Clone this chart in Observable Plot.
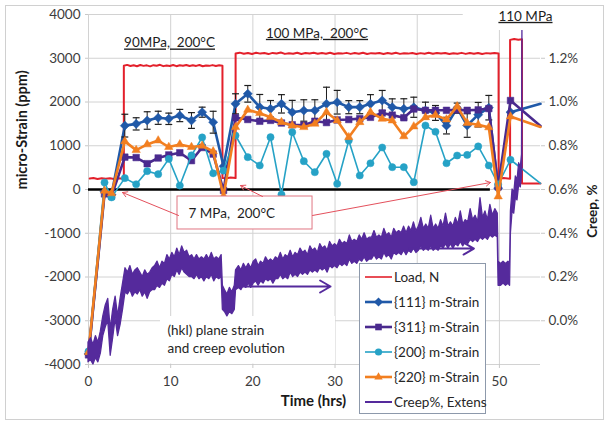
<!DOCTYPE html>
<html>
<head>
<meta charset="utf-8">
<script src="https://cdn.jsdelivr.net/npm/d3@7"></script>
<script src="https://cdn.jsdelivr.net/npm/@observablehq/plot@0.6"></script>
<style>
  html, body { margin: 0; padding: 0; background: #fff; overflow: hidden; }
  #wrap { position: relative; width: 611px; height: 423px; font-family: Lato, "Open Sans", sans-serif; }
  #chart svg { display: block; }
  #border { position: absolute; left: 5px; top: 5px; width: 599px; height: 415px; border: 1px solid #d0d0d0; box-sizing: border-box; pointer-events: none; }
  #legend { position: absolute; left: 359px; top: 263px; width: 127px; height: 151px; border: 1px solid #8d99ab; background: #fff; box-sizing: border-box; }
  #legend .row { position: absolute; left: 4px; height: 20px; display: flex; align-items: center; font-size: 13.5px; color: #262626; white-space: nowrap; }
  #legend svg { display: block; margin-right: 1px; }
</style>
</head>
<body>
<div id="wrap">
  <div id="chart"></div>
  <div id="border"></div>
  <div id="legend"></div>
</div>
<script>
// Diffraction measurement times (hrs)
const hklTime = [0, 1.95, 2.8,
  4.42, 5.80, 7.14, 8.48, 9.77, 11.11, 12.53, 13.83, 15.17, 16.43,
  17.89, 19.38, 20.84, 22.15, 23.48, 24.79, 26.20, 27.54, 28.96, 30.26, 31.67, 33.01,
  34.31, 35.74, 36.96, 38.37, 39.58, 41.00, 42.22, 43.56, 44.86, 46.08, 47.42, 48.71,
  49.85, 51.35, 55];

// Lattice micro-strain per (hkl) plane (ppm)
const strain111 = [-3760, -50, -120,
  1460, 1500, 1577, 1639, 1616, 1691, 1577, 1767, 1538, 530,
  1958, 2187, 1882, 1844, 1958, 1767, 1806, 1806, 1958, 1995, 1882, 1882,
  1958, 2034, 1882, 1844, 1880, 1806, 1750, 1460, 1860, 1463, 1710, 1870,
  30, 1767, 1960];
const err111 = [null, null, null,
  260, 140, 200, 150, 130, 140, 180, 115, 250, null,
  230, 190, 290, 190, 210, 270, 245, 245, 380, 270, 150, 150,
  210, 230, 190, 230, 230, 190, 170, 190, 115, 270, 280, 280,
  null, null, null];
const strain311 = [-3780, -100, -150,
  740, 730, 590, 720, 790, 840, 660, 960, 810, -20,
  1640, 1600, 1560, 1580, 1520, 1480, 1470, 1560, 1530, 1590, 1600, 1620,
  1650, 1750, 1700, 1640, 1840, 1810, 1810, 1810, 1820, 1810, 1820, 1850,
  60, 2034, 1450];
const strain200 = [-3700, 160, -180,
  260, 120, 420, 350, 700, 90, 780, 1190, 370, 430,
  1234, 738, 549, 1195, -114, 1310, 647, 395, 816, 130, 1120, 320,
  600, 960, 510, 510, 167, 1463, 1320, 600, 777, 790, 985, 549,
  120, 680, 140];
const strain220 = [-3720, -30, -90,
  1100, 900, 1030, 1120, 970, 1030, 970, 1000, 870, -150,
  1424, 1820, 1744, 1653, 1538, 1463, 1424, 1502, 1767, 1577, 1195, 1538,
  1767, 1615, 1577, 1215, 1440, 1650, 1700, 1600, 1900, 1520, 1480, 1420,
  -160, 1668, 1430];

// Load cell record [time (hrs), load plotted on the strain axis]
const loadTrace = [
  [0.15,250],[0.6,262],[1.1,238],[1.6,256],[2.1,244],[2.6,258],[3.1,241],[3.6,255],[4.3,248],
  [4.3,2830],[4.7,2848],[5.1,2822],[5.5,2840],[5.9,2818],[6.3,2845],[6.7,2826],[7.1,2838],[7.5,2815],[7.9,2842],
  [8.3,2828],[8.7,2850],[9.1,2820],[9.5,2836],[9.9,2824],[10.3,2846],[10.7,2819],[11.1,2840],[11.5,2827],[11.9,2844],
  [12.3,2821],[12.7,2838],[13.1,2825],[13.5,2847],[13.9,2818],[14.3,2835],[14.7,2826],[15.1,2843],[15.5,2822],[15.9,2838],[16.3,2830],
  [16.3,265],[16.8,258],[17.3,272],[17.9,262],
  [17.9,3110],[18.4,3128],[18.9,3102],[19.4,3120],[19.9,3098],[20.4,3125],[20.9,3106],[21.4,3118],[21.9,3095],[22.4,3122],
  [22.9,3108],[23.4,3130],[23.9,3100],[24.4,3116],[24.9,3104],[25.4,3126],[25.9,3099],[26.4,3120],[26.9,3107],[27.4,3124],
  [27.9,3101],[28.4,3118],[28.9,3105],[29.4,3127],[29.9,3098],[30.4,3115],[30.9,3106],[31.4,3123],[31.9,3100],[32.4,3119],
  [32.9,3104],[33.4,3126],[33.9,3097],[34.4,3117],[34.9,3108],[35.4,3122],[35.9,3099],[36.4,3118],[36.9,3103],[37.4,3125],
  [37.9,3100],[38.4,3116],[38.9,3106],[39.4,3121],[39.9,3098],[40.4,3117],[40.9,3104],[41.4,3124],[41.9,3101],[42.4,3119],
  [42.9,3107],[43.4,3122],[43.9,3099],[44.4,3116],[44.9,3105],[45.4,3123],[45.9,3100],[46.4,3118],[46.9,3103],[47.4,3121],
  [47.9,3098],[48.4,3117],[48.9,3106],[49.4,3120],[49.9,3110],
  [49.9,250],[50.5,262],[51.3,248],
  [51.3,3420],[51.8,3440],[52.3,3425],[52.75,3432],
  [52.75,140],[55,140]
];

// Extensometer creep record, noise band per reading interval [time (hrs), low %, high %]
const creepBand = [
  [0.0,-0.19,-0.10],[0.3,-0.18,-0.08],[0.6,-0.20,-0.11],[0.9,-0.17,-0.07],[1.2,-0.19,-0.10],[1.5,-0.15,-0.05],
  [1.8,-0.07,0.02],[2.1,-0.03,0.07],[2.4,0.00,0.10],[2.7,-0.16,-0.04],[3.0,-0.08,0.05],[3.3,0.01,0.11],
  [3.6,-0.07,0.02],[3.9,-0.02,0.10],[4.2,0.05,0.17],
  [4.5,0.13,0.24],[4.8,0.12,0.22],[5.1,0.14,0.25],[5.4,0.11,0.21],[5.7,0.13,0.23],[6.0,0.12,0.24],[6.3,0.14,0.22],
  [6.6,0.11,0.20],[6.9,0.13,0.23],[7.2,0.10,0.21],[7.5,0.13,0.22],[7.8,0.14,0.24],
  [8.1,0.14,0.25],[8.4,0.16,0.27],[8.7,0.15,0.24],[9.0,0.17,0.27],[9.3,0.16,0.26],[9.6,0.19,0.30],[9.9,0.18,0.28],
  [10.2,0.21,0.31],[10.5,0.20,0.29],[10.8,0.23,0.33],[11.1,0.21,0.30],[11.4,0.24,0.34],[11.7,0.22,0.31],[12.0,0.21,0.32],[12.3,0.20,0.29],
  [12.6,0.20,0.30],[12.9,0.19,0.28],[13.2,0.21,0.30],[13.5,0.19,0.28],[13.8,0.20,0.29],[14.1,0.18,0.28],[14.4,0.20,0.30],
  [14.7,0.19,0.28],[15.0,0.21,0.31],[15.3,0.18,0.28],[15.6,0.20,0.29],[15.9,0.19,0.28],[16.2,0.20,0.30],
  [16.35,0.05,0.16],[16.6,0.04,0.14],[16.9,0.02,0.12],[17.2,0.04,0.15],[17.5,0.03,0.13],[17.8,0.05,0.16],
  [17.95,0.14,0.23],[18.3,0.15,0.25],[18.6,0.14,0.23],[18.9,0.16,0.26],[19.2,0.15,0.24],[19.5,0.17,0.26],[19.8,0.15,0.24],
  [20.1,0.17,0.27],[20.4,0.18,0.28],[20.7,0.16,0.25],[21.0,0.18,0.27],[21.3,0.17,0.26],[21.6,0.19,0.29],[21.9,0.18,0.27],
  [22.2,0.19,0.28],[22.5,0.17,0.27],[22.8,0.19,0.29],[23.1,0.19,0.28],[23.4,0.21,0.31],[23.7,0.19,0.28],[24.0,0.20,0.30],
  [24.3,0.19,0.29],[24.6,0.22,0.32],[24.9,0.20,0.29],
  [25.2,0.21,0.31],[25.5,0.20,0.30],[25.8,0.22,0.33],[26.1,0.21,0.31],[26.4,0.22,0.32],[26.7,0.21,0.30],[27.0,0.23,0.34],
  [27.3,0.22,0.32],[27.6,0.23,0.33],[27.9,0.22,0.31],[28.2,0.24,0.35],[28.5,0.23,0.33],[28.8,0.24,0.34],[29.1,0.22,0.32],
  [29.4,0.25,0.36],[29.7,0.24,0.34],
  [30.0,0.25,0.35],[30.3,0.24,0.34],[30.6,0.26,0.37],[30.9,0.25,0.35],[31.2,0.26,0.36],[31.5,0.25,0.35],[31.8,0.28,0.39],
  [32.1,0.26,0.36],[32.4,0.27,0.37],[32.7,0.26,0.36],[33.0,0.28,0.39],[33.3,0.27,0.37],[33.6,0.29,0.40],[33.9,0.27,0.37],
  [34.2,0.28,0.38],[34.5,0.28,0.38],[34.8,0.30,0.41],[35.1,0.28,0.38],[35.4,0.29,0.39],[35.7,0.28,0.38],[36.0,0.31,0.42],
  [36.3,0.29,0.39],[36.6,0.30,0.40],[36.9,0.28,0.38],[37.2,0.31,0.42],[37.5,0.30,0.40],[37.8,0.31,0.41],
  [38.1,0.30,0.40],[38.4,0.32,0.43],[38.7,0.30,0.40],[39.0,0.32,0.43],[39.3,0.31,0.41],[39.6,0.33,0.45],[39.9,0.31,0.41],
  [40.2,0.32,0.43],[40.5,0.34,0.47],[40.8,0.32,0.42],[41.1,0.33,0.44],[41.4,0.32,0.42],[41.7,0.34,0.48],[42.0,0.32,0.42],
  [42.3,0.33,0.44],[42.6,0.32,0.42],[42.9,0.34,0.46],[43.2,0.33,0.43],[43.5,0.35,0.49],[43.8,0.33,0.43],[44.1,0.35,0.45],
  [44.4,0.33,0.43],[44.7,0.35,0.47],[45.0,0.34,0.44],[45.3,0.36,0.50],[45.6,0.34,0.44],[45.9,0.36,0.46],
  [46.2,0.35,0.45],[46.5,0.37,0.51],[46.8,0.36,0.46],[47.1,0.37,0.48],[47.4,0.36,0.45],[47.7,0.38,0.56],[48.0,0.37,0.47],
  [48.3,0.38,0.50],[48.6,0.37,0.46],[48.9,0.39,0.53],[49.2,0.38,0.48],[49.5,0.39,0.51],[49.8,0.38,0.49],
  [49.9,0.16,0.27],[50.2,0.16,0.26],[50.5,0.17,0.27],[50.8,0.16,0.26],[51.1,0.17,0.27],[51.3,0.16,0.26],
  [51.4,0.40,0.50],[51.6,0.50,0.60],[51.8,0.49,0.58],[52.0,0.56,0.66],[52.2,0.55,0.64],[52.4,0.62,0.72],[52.6,0.61,0.70],
  [52.75,0.66,0.76],[52.8,0.70,1.33]
];

// Axis ticks
const timeTicks = [0, 10, 20, 30, 40, 50];
const timeLabels = [0, 10, 20, 30, 50];
const strainTicks = [-4000, -3000, -2000, -1000, 0, 1000, 2000, 3000, 4000];
const creepTicks = [0.0, 0.2, 0.4, 0.6, 0.8, 1.0, 1.2];

// Secondary axis: 0.6 % sits on the 0 ppm line, 0.2 % per 1000 ppm
const creepToStrain = c => (c - 0.6) * 5000;
const strainToCreep = s => (s + 3000) / 5000;

const colors = {
  load: "#e3202b", s111: "#2059a8", s311: "#4a2a8e", s200: "#26a2c6", s220: "#f27f20", creep: "#552a9c"
};

const rows = hklTime.map((t, i) => ({
  t, s111: strain111[i], e111: err111[i], s311: strain311[i], s200: strain200[i], s220: strain220[i]
}));
const shown = rows.filter(d => d.t < 55);

const capSymbol = {
  draw(ctx, size) { const w = Math.sqrt(size) / 2; ctx.moveTo(-w, 0); ctx.lineTo(w, 0); }
};
const errRows = rows.filter(d => d.e111 != null);
const caps = errRows.flatMap(d => [{t: d.t, v: d.s111 + d.e111}, {t: d.t, v: d.s111 - d.e111}]);

const font = "Lato, 'Open Sans', sans-serif";

const series = [
  {key: "s111", color: colors.s111, width: 2.6, symbol: "diamond2", r: 4.1},
  {key: "s311", color: colors.s311, width: 2.6, symbol: "square2", r: 4.2},
  {key: "s200", color: colors.s200, width: 1.6, symbol: "circle", r: 3.6},
  {key: "s220", color: colors.s220, width: 2.6, symbol: "triangle2", r: 4.0}
];

const chart = Plot.plot({
  width: 611,
  height: 423,
  marginLeft: 88,
  marginRight: 71,
  marginTop: 14,
  marginBottom: 59,
  style: {fontFamily: font, background: "transparent", overflow: "visible"},
  x: {domain: [0, 55], axis: null},
  y: {domain: [-4000, 4000], axis: null},
  marks: [
    Plot.gridY({ticks: strainTicks, stroke: "#d2d2d2", strokeOpacity: 1}),
    Plot.gridX({ticks: timeTicks, stroke: "#d2d2d2", strokeOpacity: 1}),
    Plot.axisY({anchor: "left", ticks: strainTicks, tickSize: 3, tickPadding: 5, stroke: "#c8c8c8",
      fill: "#3c3c3c", fontSize: 13.5, label: null, tickFormat: d => String(d)}),
    Plot.axisY({anchor: "right", ticks: creepTicks.map(creepToStrain), tickSize: 4, tickPadding: 4, stroke: "#c8c8c8",
      fill: "#3c3c3c", fontSize: 13.5, label: null, tickFormat: d => strainToCreep(d).toFixed(1) + "%"}),
    Plot.axisX({anchor: "bottom", ticks: timeLabels, tickSize: 4, tickPadding: 8, stroke: "#c8c8c8",
      fill: "#3c3c3c", fontSize: 13.5, label: null}),
    // white box behind the evolution note
    Plot.rect([{x1: 8.76, x2: 30.06, y1: -3990, y2: -2903}], {x1: "x1", x2: "x2", y1: "y1", y2: "y2", fill: "white"}),
    // zero strain reference
    Plot.ruleY([0], {x1: 0, x2: 48.9, stroke: "#000", strokeWidth: 2.4}),
    // load
    Plot.line(loadTrace, {x: d => d[0], y: d => d[1], stroke: colors.load, strokeWidth: 2}),
    // lattice strains
    ...series.flatMap(s => [
      Plot.line(rows, {x: "t", y: s.key, stroke: s.color, strokeWidth: s.width}),
      ...(s.key === "s111" ? [
        Plot.ruleX(errRows, {x: "t", y1: d => d.s111 - d.e111, y2: d => d.s111 + d.e111, stroke: "#1e1e1e", strokeWidth: 1}),
        Plot.dot(caps, {x: "t", y: "v", symbol: capSymbol, r: 3.9, stroke: "#1e1e1e", strokeWidth: 1.2, fill: "none"})
      ] : []),
      Plot.dot(shown, {x: "t", y: s.key, symbol: s.symbol, r: s.r, fill: s.color, stroke: s.color, strokeWidth: 0.5})
    ]),
    // creep from the extensometer, on the secondary axis
    Plot.areaY(creepBand, {x: d => d[0], y1: d => creepToStrain(d[1]), y2: d => creepToStrain(d[2]),
      fill: colors.creep, stroke: colors.creep, strokeWidth: 1.3, curve: "linear"}),
    Plot.arrow([{x1: 18.5, x2: 29.45, y: -2217}, {x1: 39.0, x2: 46.9, y: -1349}],
      {x1: "x1", x2: "x2", y1: "y", y2: "y", stroke: colors.creep, strokeWidth: 2, headLength: 9}),
    // label box at the top right
    Plot.rect([{x1: 45.6, x2: 58, y1: 3634, y2: 4400}], {x1: "x1", x2: "x2", y1: "y1", y2: "y2", fill: "white"}),
    // 7 MPa hold annotation
    Plot.rect([{x1: 10.83, x2: 27.26, y1: -914, y2: -160}], {x1: "x1", x2: "x2", y1: "y1", y2: "y2", fill: "white", stroke: "#e07682", strokeWidth: 1}),
    Plot.arrow([
      {x1: 10.95, y1: -594, x2: 4.14, y2: -69},
      {x1: 21.17, y1: -160, x2: 18.5, y2: 91},
      {x1: 27.26, y1: -594, x2: 48.92, y2: 160}
    ], {x1: "x1", y1: "y1", x2: "x2", y2: "y2", stroke: "#e4505c", strokeWidth: 1, headLength: 8}),
    Plot.text(["7 MPa,  200°C"], {x: 12.17, y: -549, textAnchor: "start", fontSize: 13.5, fill: "#1e1e1e"}),
    // stress level labels
    Plot.text(["90MPa,  200°C"], {x: 9.86, y: 3345, fontSize: 13.5, fill: "#1e1e1e"}),
    Plot.text(["100 MPa,  200°C"], {x: 27.8, y: 3566, fontSize: 13.5, fill: "#1e1e1e"}),
    Plot.text(["110 MPa"], {x: 53.17, y: 3954, fontSize: 13.5, fill: "#1e1e1e"}),
    Plot.text(["(hkl) plane strain\nand creep evolution"], {x: 9.61, y: -3394, textAnchor: "start", lineHeight: 1.4,
      fontSize: 13.5, fill: "#262626"}),
    // axis titles
    Plot.text(["micro-Strain (ppm)"], {frameAnchor: "left", dx: -66, rotate: -90, fontSize: 14.5, fontWeight: "bold", fill: "#1a1a1a"}),
    Plot.text(["Creep, %"], {frameAnchor: "right", dx: 52, dy: -5, rotate: -90, fontSize: 13.5, fontWeight: "bold", fill: "#1a1a1a"}),
    Plot.text(["Time (hrs)"], {frameAnchor: "bottom", dx: -1, dy: 41, fontSize: 15, fontWeight: "bold", fill: "#1a1a1a"})
  ]
});

d3.select(chart).selectAll("text")
  .filter(function () { return /^(90|100|110) ?MPa/.test(this.textContent); })
  .attr("text-decoration", "underline");

document.getElementById("chart").appendChild(chart);

// legend
const legendItems = [
  {label: "Load, N", color: colors.load, symbol: null, width: 1.6},
  {label: "{111} m-Strain", color: colors.s111, symbol: d3.symbolDiamond2, r: 4.1, width: 2.6},
  {label: "{311} m-Strain", color: colors.s311, symbol: d3.symbolSquare2, r: 4.2, width: 2.6},
  {label: "{200} m-Strain", color: colors.s200, symbol: d3.symbolCircle, r: 3.6, width: 1.6},
  {label: "{220} m-Strain", color: colors.s220, symbol: d3.symbolTriangle2, r: 4.0, width: 2.6},
  {label: "Creep%, Extens", color: colors.creep, symbol: null, width: 2}
];
const legend = d3.select("#legend");
legendItems.forEach((item, i) => {
  const row = legend.append("div").attr("class", "row").style("top", (3 + i * 25) + "px");
  const sw = row.append("svg").attr("width", 29).attr("height", 20);
  sw.append("line").attr("x1", 1).attr("x2", 28).attr("y1", 10).attr("y2", 10)
    .attr("stroke", item.color).attr("stroke-width", item.width);
  if (item.symbol) {
    sw.append("path").attr("transform", "translate(14.5,10)")
      .attr("d", d3.symbol(item.symbol, Math.PI * item.r * item.r)())
      .attr("fill", item.color);
  }
  row.append("span").text(item.label);
});
</script>
</body>
</html>
